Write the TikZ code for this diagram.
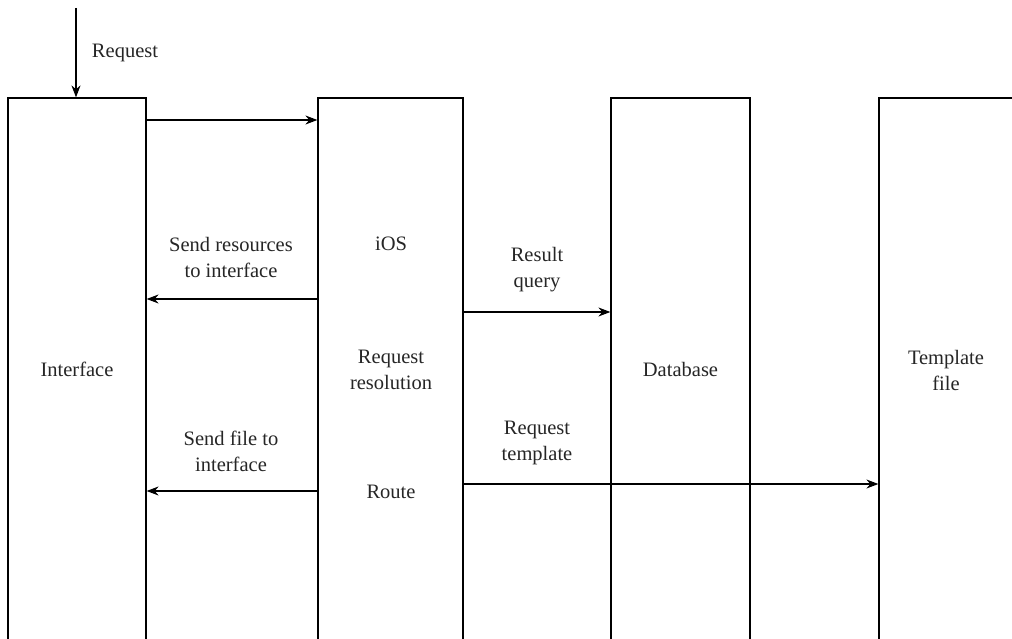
\documentclass[tikz,border=0pt]{standalone}
\usepackage{fontspec}
\setmainfont{Liberation Serif}
\usetikzlibrary{arrows.meta}
\begin{document}
\begin{tikzpicture}[x=1pt,y=-1pt,
  lane/.style={draw, line width=1.2pt, rectangle, minimum height=582pt, inner sep=0pt},
  lbl/.style={font=\fontsize{20.5}{26}\selectfont, align=center, text=black!85, inner sep=0pt},
  arr/.style={line width=1.1pt, -{Stealth[length=12pt,width=9pt]}}]
\useasboundingbox (0,0) rectangle (1012,639);
\clip (0,0) rectangle (1012,639);
\node[lane, minimum width=138pt] (iface) at (77,389) {};
\node[lane, minimum width=145pt] (ios) at (390.5,389) {};
\node[lane, minimum width=139pt] (db) at (680.5,389) {};
\node[lane, minimum width=140pt] (tpl) at (949,389) {};
\coordinate (rq) at (76,8);
\draw[arr] (rq) -- (iface.north -| rq);
\node[lbl] (lreq) at (125,53) {Request};
\node[lbl] (lif) at (77,369) {Interface};
\node[lbl] (lios) at (391,244) {iOS};
\node[lbl] (lres) at (391,370) {Request\\resolution};
\node[lbl] (lroute) at (391,492) {Route};
\node[lbl] (ldb) at (680.5,369) {Database};
\node[lbl] (ltpl) at (946,370) {Template\\file};
\node[lbl] (lsr) at (231,257) {Send resources\\to interface};
\node[lbl] (lrq) at (537,270) {Result\\query};
\node[lbl] (lsf) at (231,451) {Send file to\\interface};
\node[lbl] (lrt) at (537,443) {Request\\template};
\draw[arr] (iface.east |- 0,120) -- (ios.west |- 0,120);
\draw[arr] (ios.west |- 0,299) -- (iface.east |- 0,299);
\draw[arr] (ios.east |- 0,312) -- (db.west |- 0,312);
\draw[arr] (ios.west |- 0,491) -- (iface.east |- 0,491);
\draw[arr] (ios.east |- 0,484) -- (tpl.west |- 0,484);
\end{tikzpicture}
\end{document}
